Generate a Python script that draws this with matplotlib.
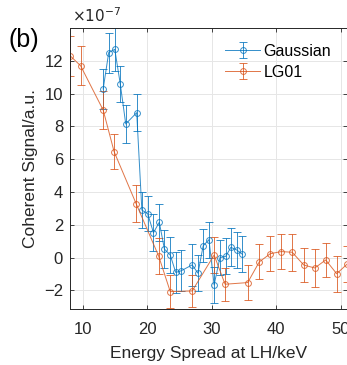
import matplotlib
matplotlib.use("Agg")
import matplotlib.pyplot as plt

plt.rcParams['font.family'] = ['Liberation Sans', 'DejaVu Sans']

# Data (signal in units of 1e-7)
gauss_x = [13.2, 14.06, 15.0, 15.86, 16.7, 18.4, 19.2, 20.1, 21.0, 21.9, 22.7, 23.6,
           24.45, 25.3, 27.0, 27.9, 28.7, 29.6, 30.4, 31.3, 32.2, 33.0, 33.9, 34.8]
gauss_y = [10.28, 12.5, 12.7, 10.57, 8.15, 8.84, 2.9, 2.68, 1.52, 2.16, 0.52, 0.16,
           -0.9, -0.8, -0.44, -0.95, 0.72, 1.1, -1.66, 0.0, 0.08, 0.63, 0.47, 0.2]
gauss_err = [1.22, 1.22, 1.3, 1.1, 1.14, 1.12, 1.12, 1.05, 1.12, 1.12, 1.15, 1.1,
             1.25, 1.25, 1.3, 1.1, 1.0, 1.1, 1.1, 1.07, 1.1, 1.15, 1.1, 1.1]

lg_x = [8.1, 9.7, 13.2, 14.9, 18.3, 21.8, 23.6, 27.0, 30.4, 32.1, 35.6, 37.4, 39.1,
        40.8, 42.5, 44.3, 46.0, 47.7, 49.4, 51.0]
lg_y = [12.3, 11.7, 9.0, 6.46, 3.3, 0.1, -2.07, -2.03, 0.16, -1.62, -1.52, -0.26, 0.24,
        0.37, 0.33, -0.45, -0.63, -0.14, -0.98, -0.4]
lg_err = [1.2, 1.2, 1.14, 1.07, 1.1, 1.1, 1.0, 1.0, 1.1, 1.0, 1.07, 1.07, 1.05,
          1.06, 1.14, 1.04, 1.17, 1.05, 1.1, 1.1]

x_ticks = [10, 20, 30, 40, 50]
y_ticks = [-2, 0, 2, 4, 6, 8, 10, 12]

blue = '#0072BD'
orange = '#D95319'

fig = plt.figure(figsize=(3.47, 3.65), dpi=100)
ax = fig.add_axes([70 / 347, 56 / 365, 277 / 347, 281 / 365])

kw = dict(marker='o', markersize=4.2, markerfacecolor='none', linewidth=0.7,
          elinewidth=0.7, capsize=2.8, capthick=0.7, markeredgewidth=0.7, alpha=0.8)
ax.errorbar(gauss_x, gauss_y, yerr=gauss_err, color=blue, label='Gaussian', **kw)
ax.errorbar(lg_x, lg_y, yerr=lg_err, color=orange, label='LG01', **kw)

ax.set_xlim(8.06, 51.0)
ax.set_ylim(-3.13, 14.0)
ax.set_xticks(x_ticks)
ax.set_yticks(y_ticks)
ax.grid(True, color='#e6e6e6', linewidth=0.7)
ax.set_axisbelow(True)
ax.tick_params(direction='in', length=3, width=0.6, top=True, right=True,
               labelsize=12, colors='#262626', pad=5)
ax.tick_params(axis='x', pad=9)
for s in ax.spines.values():
    s.set_color('#262626')
    s.set_linewidth(0.7)

ax.set_xlabel('Energy Spread at LH/keV', fontsize=12.5, color='#262626', labelpad=7)
ax.set_ylabel('Coherent Signal/a.u.', fontsize=12.5, color='#262626', labelpad=4)

fig.text(72 / 347, 1 - 16 / 365, r'$\times10^{-7}$', fontsize=11, color='#262626',
         va='center', ha='left')
fig.text(8 / 347, 1 - 40 / 365, '(b)', fontsize=18, color='black', va='center', ha='left')

ax.legend(loc='upper right', bbox_to_anchor=(1.0, 1.0), frameon=False, fontsize=11.5,
          handlelength=2.2, handletextpad=0.2, labelspacing=0.35, borderaxespad=0.6)

fig.savefig('out.png', dpi=100)
